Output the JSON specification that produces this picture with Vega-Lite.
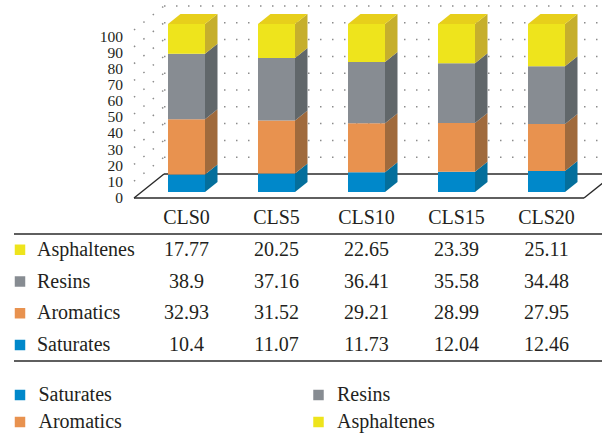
{
  "$schema": "https://vega.github.io/schema/vega-lite/v6.json",
  "padding": 0,
  "spacing": 0,
  "bounds": "flush",
  "background": "white",
  "config": {
    "view": {"stroke": null},
    "text": {"font": "Liberation Serif", "fontSize": 20, "color": "#231F20"}
  },
  "datasets": {
    "fractions": [
      {"sample": "CLS0", "comp": "Saturates", "value": 10.4},
      {"sample": "CLS0", "comp": "Aromatics", "value": 32.93},
      {"sample": "CLS0", "comp": "Resins", "value": 38.9},
      {"sample": "CLS0", "comp": "Asphaltenes", "value": 17.77},
      {"sample": "CLS5", "comp": "Saturates", "value": 11.07},
      {"sample": "CLS5", "comp": "Aromatics", "value": 31.52},
      {"sample": "CLS5", "comp": "Resins", "value": 37.16},
      {"sample": "CLS5", "comp": "Asphaltenes", "value": 20.25},
      {"sample": "CLS10", "comp": "Saturates", "value": 11.73},
      {"sample": "CLS10", "comp": "Aromatics", "value": 29.21},
      {"sample": "CLS10", "comp": "Resins", "value": 36.41},
      {"sample": "CLS10", "comp": "Asphaltenes", "value": 22.65},
      {"sample": "CLS15", "comp": "Saturates", "value": 12.04},
      {"sample": "CLS15", "comp": "Aromatics", "value": 28.99},
      {"sample": "CLS15", "comp": "Resins", "value": 35.58},
      {"sample": "CLS15", "comp": "Asphaltenes", "value": 23.39},
      {"sample": "CLS20", "comp": "Saturates", "value": 12.46},
      {"sample": "CLS20", "comp": "Aromatics", "value": 27.95},
      {"sample": "CLS20", "comp": "Resins", "value": 34.48},
      {"sample": "CLS20", "comp": "Asphaltenes", "value": 25.11}
    ],
    "ticks": [
      {"v": 0}, {"v": 10}, {"v": 20}, {"v": 30}, {"v": 40}, {"v": 50},
      {"v": 60}, {"v": 70}, {"v": 80}, {"v": 90}, {"v": 100}
    ]
  },
  "vconcat": [
    {
      "width": 602,
      "height": 210,
      "layer": [
        {
          "data": {"name": "ticks"},
          "transform": [
            {"filter": "datum.v > 0"},
            {"calculate": "datum.v + 14.2857", "as": "vBack"}
          ],
          "mark": {"type": "rule", "stroke": "#8c8c8c", "strokeWidth": 1.5, "strokeDash": [1.5, 10.5]},
          "encoding": {
            "x": {"datum": -0.5, "type": "quantitative", "scale": {"domain": [-1.988889, 4.7], "nice": false, "zero": false}, "axis": null},
            "x2": {"datum": -0.166667},
            "y": {"field": "v", "type": "quantitative", "scale": {"domain": [-7.142857, 117.857143], "nice": false, "zero": false}, "axis": null},
            "y2": {"field": "vBack"}
          }
        },
        {
          "data": {"name": "ticks"},
          "transform": [
            {"filter": "datum.v > 0"},
            {"calculate": "datum.v + 14.2857", "as": "vBack"}
          ],
          "mark": {"type": "rule", "stroke": "#8c8c8c", "strokeWidth": 1.5, "strokeDash": [1.5, 10.5], "clip": true},
          "encoding": {
            "x": {"datum": -0.166667, "type": "quantitative", "scale": {"domain": [-1.988889, 4.7], "nice": false, "zero": false}, "axis": null},
            "x2": {"datum": 4.833333},
            "y": {"field": "vBack", "type": "quantitative", "scale": {"domain": [-7.142857, 117.857143], "nice": false, "zero": false}, "axis": null}
          }
        },
        {
          "data": {"name": "ticks"},
          "transform": [
            {"filter": "datum.v == 0"},
            {"calculate": "[0, 1, 2, 3]", "as": "edge"},
            {"flatten": ["edge"]},
            {"calculate": "datum.edge == 1 ? -0.166667 : (datum.edge == 3 ? 4.5 : -0.5)", "as": "fx0"},
            {"calculate": "datum.edge == 0 ? 4.5 : (datum.edge == 2 ? -0.166667 : 4.833333)", "as": "fx1"},
            {"calculate": "datum.edge == 1 ? 14.2857 : 0", "as": "fy0"},
            {"calculate": "datum.edge == 0 ? 0 : 14.2857", "as": "fy1"}
          ],
          "mark": {"type": "rule", "stroke": "#2a2a2a", "strokeWidth": 1.5, "clip": true},
          "encoding": {
            "x": {"field": "fx0", "type": "quantitative", "scale": {"domain": [-1.988889, 4.7], "nice": false, "zero": false}, "axis": null},
            "x2": {"field": "fx1"},
            "y": {"field": "fy0", "type": "quantitative", "scale": {"domain": [-7.142857, 117.857143], "nice": false, "zero": false}, "axis": null},
            "y2": {"field": "fy1"}
          }
        },
        {
          "data": {"name": "fractions"},
          "transform": [
            {"calculate": "indexof(['CLS0','CLS5','CLS10','CLS15','CLS20'], datum.sample)", "as": "slot"},
            {"calculate": "indexof(['Saturates','Aromatics','Resins','Asphaltenes'], datum.comp)", "as": "layer"},
            {"stack": "value", "groupby": ["sample"], "sort": [{"field": "layer", "order": "ascending"}], "as": ["v0", "v1"]},
            {"calculate": "datum.slot + 0.083333 - 0.205556", "as": "xl"},
            {"calculate": "datum.slot + 0.083333 + 0.205556", "as": "xr"},
            {"calculate": "datum.v0 + 3.5714", "as": "yb"},
            {"calculate": "datum.v1 + 3.5714", "as": "yt"}
          ],
          "mark": {"type": "rect"},
          "encoding": {
            "x": {"field": "xl", "type": "quantitative", "scale": {"domain": [-1.988889, 4.7], "nice": false, "zero": false}, "axis": null},
            "x2": {"field": "xr"},
            "y": {"field": "yb", "type": "quantitative", "scale": {"domain": [-7.142857, 117.857143], "nice": false, "zero": false}, "axis": null},
            "y2": {"field": "yt"},
            "color": {
              "field": "comp", "type": "nominal", "legend": null,
              "scale": {"domain": ["Saturates", "Aromatics", "Resins", "Asphaltenes"], "range": ["#0088CA", "#E8924F", "#878C92", "#EEE41C"]}
            }
          }
        },
        {
          "data": {"name": "fractions"},
          "transform": [
            {"calculate": "indexof(['CLS0','CLS5','CLS10','CLS15','CLS20'], datum.sample)", "as": "slot"},
            {"calculate": "indexof(['Saturates','Aromatics','Resins','Asphaltenes'], datum.comp)", "as": "layer"},
            {"stack": "value", "groupby": ["sample"], "sort": [{"field": "layer", "order": "ascending"}], "as": ["v0", "v1"]},
            {"calculate": "[0, 1]", "as": "t"},
            {"flatten": ["t"]},
            {"calculate": "datum.slot + 0.083333 + 0.205556 + datum.t * 0.138889", "as": "sx"},
            {"calculate": "datum.v0 + 3.5714 + datum.t * 5.9524", "as": "sy0"},
            {"calculate": "datum.v1 + 3.5714 + datum.t * 5.9524", "as": "sy1"}
          ],
          "mark": {"type": "area", "orient": "vertical"},
          "encoding": {
            "x": {"field": "sx", "type": "quantitative", "scale": {"domain": [-1.988889, 4.7], "nice": false, "zero": false}, "axis": null},
            "y": {"field": "sy0", "type": "quantitative", "scale": {"domain": [-7.142857, 117.857143], "nice": false, "zero": false}, "axis": null},
            "y2": {"field": "sy1"},
            "fill": {
              "field": "comp", "type": "nominal", "legend": null,
              "scale": {"domain": ["Saturates", "Aromatics", "Resins", "Asphaltenes"], "range": ["#046F9C", "#A06A3C", "#61676A", "#C6AF2C"]}
            },
            "detail": {"field": "sample"}
          }
        },
        {
          "data": {"name": "fractions"},
          "transform": [
            {"calculate": "indexof(['CLS0','CLS5','CLS10','CLS15','CLS20'], datum.sample)", "as": "slot"},
            {"calculate": "indexof(['Saturates','Aromatics','Resins','Asphaltenes'], datum.comp)", "as": "layer"},
            {"stack": "value", "groupby": ["sample"], "sort": [{"field": "layer", "order": "ascending"}], "as": ["v0", "v1"]},
            {"filter": "datum.layer == 3"},
            {"calculate": "[0, 1, 2, 3]", "as": "k"},
            {"flatten": ["k"]},
            {"calculate": "datum.slot + 0.083333 - 0.205556 + ((datum.k == 1 || datum.k == 3) ? 0.138889 : 0) + (datum.k >= 2 ? 0.411111 : 0)", "as": "tx"},
            {"calculate": "datum.v1 + 3.5714 + (datum.k == 3 ? 5.9524 : 0)", "as": "ty0"},
            {"calculate": "datum.v1 + 3.5714 + (datum.k >= 1 ? 5.9524 : 0)", "as": "ty1"}
          ],
          "mark": {"type": "area", "orient": "vertical", "fill": "#E7CF1B"},
          "encoding": {
            "x": {"field": "tx", "type": "quantitative", "scale": {"domain": [-1.988889, 4.7], "nice": false, "zero": false}, "axis": null},
            "y": {"field": "ty0", "type": "quantitative", "scale": {"domain": [-7.142857, 117.857143], "nice": false, "zero": false}, "axis": null},
            "y2": {"field": "ty1"},
            "detail": {"field": "sample"}
          }
        },
        {
          "data": {"name": "ticks"},
          "transform": [{"calculate": "datum.v * 0.96", "as": "ly"}],
          "mark": {"type": "text", "align": "right", "baseline": "middle", "dx": -11, "fontSize": 15.5},
          "encoding": {
            "x": {"datum": -0.5, "type": "quantitative", "scale": {"domain": [-1.988889, 4.7], "nice": false, "zero": false}, "axis": null},
            "y": {"field": "ly", "type": "quantitative", "scale": {"domain": [-7.142857, 117.857143], "nice": false, "zero": false}, "axis": null},
            "text": {"field": "v", "type": "nominal"}
          }
        }
      ]
    },
    {
      "width": 602,
      "height": 150,
      "layer": [
        {
          "data": {"name": "fractions"},
          "transform": [
            {"filter": "datum.comp == 'Saturates'"},
            {"calculate": "indexof(['CLS0','CLS5','CLS10','CLS15','CLS20'], datum.sample) + 0.083333", "as": "col"}
          ],
          "mark": {"type": "text", "align": "center", "baseline": "middle", "fontSize": 20},
          "encoding": {
            "x": {"field": "col", "type": "quantitative", "scale": {"domain": [-1.988889, 4.7], "nice": false, "zero": false}, "axis": null},
            "y": {"datum": "Sample", "type": "nominal", "scale": {"type": "band", "domain": ["Sample", "Asphaltenes", "Resins", "Aromatics", "Saturates"], "range": [-7.875, 150.875], "paddingInner": 0, "paddingOuter": 0}, "axis": null},
            "text": {"field": "sample", "type": "nominal"}
          }
        },
        {
          "data": {"name": "fractions"},
          "transform": [
            {"calculate": "indexof(['CLS0','CLS5','CLS10','CLS15','CLS20'], datum.sample) + 0.083333", "as": "col"}
          ],
          "mark": {"type": "text", "align": "center", "baseline": "middle", "fontSize": 20},
          "encoding": {
            "x": {"field": "col", "type": "quantitative", "scale": {"domain": [-1.988889, 4.7], "nice": false, "zero": false}, "axis": null},
            "y": {"field": "comp", "type": "nominal", "scale": {"type": "band", "domain": ["Sample", "Asphaltenes", "Resins", "Aromatics", "Saturates"], "range": [-7.875, 150.875], "paddingInner": 0, "paddingOuter": 0}, "axis": null},
            "text": {"field": "value", "type": "nominal"}
          }
        },
        {
          "data": {"name": "fractions"},
          "transform": [{"filter": "datum.sample == 'CLS0'"}],
          "mark": {"type": "square", "size": 110, "opacity": 1},
          "encoding": {
            "x": {"datum": -1.766667, "type": "quantitative", "scale": {"domain": [-1.988889, 4.7], "nice": false, "zero": false}, "axis": null},
            "y": {"field": "comp", "type": "nominal", "scale": {"type": "band", "domain": ["Sample", "Asphaltenes", "Resins", "Aromatics", "Saturates"], "range": [-7.875, 150.875], "paddingInner": 0, "paddingOuter": 0}, "axis": null},
            "color": {
              "field": "comp", "type": "nominal", "legend": null,
              "scale": {"domain": ["Saturates", "Aromatics", "Resins", "Asphaltenes"], "range": ["#0088CA", "#E8924F", "#878C92", "#EEE41C"]}
            }
          }
        },
        {
          "data": {"name": "fractions"},
          "transform": [{"filter": "datum.sample == 'CLS0'"}],
          "mark": {"type": "text", "align": "left", "baseline": "middle", "fontSize": 20},
          "encoding": {
            "x": {"datum": -1.577778, "type": "quantitative", "scale": {"domain": [-1.988889, 4.7], "nice": false, "zero": false}, "axis": null},
            "y": {"field": "comp", "type": "nominal", "scale": {"type": "band", "domain": ["Sample", "Asphaltenes", "Resins", "Aromatics", "Saturates"], "range": [-7.875, 150.875], "paddingInner": 0, "paddingOuter": 0}, "axis": null},
            "text": {"field": "comp", "type": "nominal"}
          }
        },
        {
          "data": {"values": [{"row": "Sample"}, {"row": "Saturates"}]},
          "mark": {"type": "rule", "stroke": "#2a2a2a", "strokeWidth": 1.5},
          "encoding": {
            "x": {"datum": -1.833333, "type": "quantitative", "scale": {"domain": [-1.988889, 4.7], "nice": false, "zero": false}, "axis": null},
            "x2": {"datum": 4.7},
            "y": {"field": "row", "type": "nominal", "bandPosition": 1, "scale": {"type": "band", "domain": ["Sample", "Asphaltenes", "Resins", "Aromatics", "Saturates"], "range": [-7.875, 150.875], "paddingInner": 0, "paddingOuter": 0}, "axis": null}
          }
        }
      ]
    },
    {
      "width": 602,
      "height": 76,
      "data": {"name": "fractions"},
      "transform": [
        {"filter": "datum.sample == 'CLS0'"},
        {"calculate": "indexof(['Saturates','Aromatics','Resins','Asphaltenes'], datum.comp)", "as": "layer"},
        {"calculate": "floor(datum.layer / 2)", "as": "col"},
        {"calculate": "datum.layer % 2", "as": "row"}
      ],
      "encoding": {
        "x": {"field": "col", "type": "quantitative", "scale": {"domain": [0, 1], "range": [20, 318.5]}, "axis": null},
        "y": {"field": "row", "type": "quantitative", "scale": {"domain": [0, 1], "range": [35, 62]}, "axis": null}
      },
      "layer": [
        {
          "mark": {"type": "square", "size": 110, "opacity": 1},
          "encoding": {
            "color": {
              "field": "comp", "type": "nominal", "legend": null,
              "scale": {"domain": ["Saturates", "Aromatics", "Resins", "Asphaltenes"], "range": ["#0088CA", "#E8924F", "#878C92", "#EEE41C"]}
            }
          }
        },
        {
          "mark": {"type": "text", "align": "left", "baseline": "middle", "dx": 18.5, "fontSize": 20},
          "encoding": {"text": {"field": "comp", "type": "nominal"}}
        }
      ]
    }
  ]
}
